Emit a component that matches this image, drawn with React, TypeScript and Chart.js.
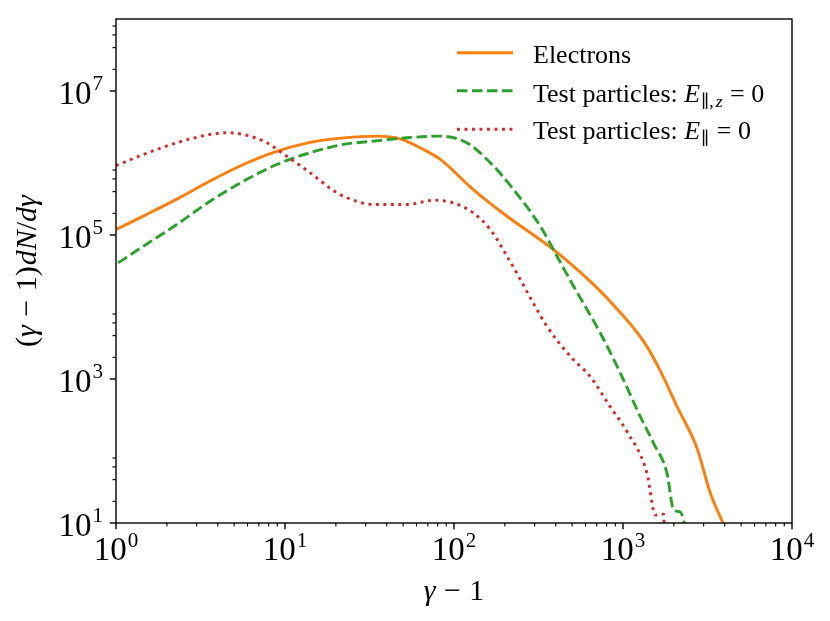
import React, { useEffect, useRef } from 'react';
import { Chart, registerables } from 'chart.js';

Chart.register(...registerables);

// ---------- data ----------
const electronsX = [1, 1.45, 2.29, 3.6, 5.67, 8.94, 14.1, 22.2, 35, 48, 66, 83, 130, 206, 388, 640, 804, 1324, 1663, 2088, 2742, 3288, 3941];
const electronsY = [1.19e5, 1.83e5, 3.15e5, 5.62e5, 9.53e5, 1.45e6, 1.93e6, 2.23e6, 2.36e6, 2.17e6, 1.54e6, 1.12e6, 4.28e5, 1.82e5, 6.27e4, 2.27e4, 1.33e4, 3.33e3, 1.3e3, 415, 109, 25.9, 9.5];

const testEzX = [1.03, 1.45, 2.29, 3.6, 5.67, 8.94, 14.1, 22.2, 33.4, 52.6, 82.9, 119, 164, 225, 324, 407, 510, 734, 964, 1266, 1518, 1822, 1994, 2183, 2371];
const testEzY = [4.1e4, 6.97e4, 1.4e5, 2.94e5, 5.58e5, 9.53e5, 1.39e6, 1.81e6, 2.01e6, 2.24e6, 2.36e6, 1.91e6, 1.01e6, 4.28e5, 1.32e5, 5.06e4, 1.94e4, 4.35e3, 1.21e3, 301, 128, 49, 15.2, 14.2, 8];

const testEX = [1, 1.45, 2.29, 3.6, 4.52, 5.67, 7.8, 10.25, 14.1, 20.3, 27.8, 33.4, 52.6, 75.6, 99.3, 130, 164, 206, 247, 296, 355, 488, 640, 841, 1056, 1387, 1554, 1740, 1756];
const testEY = [9.2e5, 1.31e6, 1.91e6, 2.49e6, 2.63e6, 2.49e6, 1.91e6, 1.24e6, 7.31e5, 3.85e5, 2.85e5, 2.65e5, 2.65e5, 3.04e5, 2.79e5, 2.03e5, 1.19e5, 5.06e4, 2.4e4, 1.11e4, 5.37e3, 2.06e3, 1.08e3, 410, 186, 49, 12.9, 13.3, 8];

const xMajorTicks = [1, 10, 100, 1000, 10000];
const xTickExponents = ['0', '1', '2', '3', '4'];
const xMinorMultipliers = [2, 3, 4, 5, 6, 7, 8, 9];
const xMinorDecades = [1, 10, 100, 1000];

const yMajorTicks = [10, 1e3, 1e5, 1e7];
const yTickExponents = ['1', '3', '5', '7'];
const yMinorMultipliers = [2, 4, 6, 8];
const yMinorDecades = [10, 1e3, 1e5, 1e7];

const seriesNames = ['Electrons', 'Test particles: ', 'Test particles: '];

const COLORS = ['#ff7f0e', '#2ca02c', '#d62728'];
const DASHES: number[][] = [[], [10.5, 4.5], [2.9, 4.6]];
const LW = 2.9;

// ---------- text helpers ----------
const SERIF = '"Liberation Serif", "Times New Roman", "DejaVu Serif", serif';
type Run = { t: string; italic?: boolean; scale?: number; dy?: number; dx?: number; fam?: string };
const fontOf = (size: number, r: Run) =>
  `${r.italic ? 'italic ' : ''}${size * (r.scale ?? 1)}px ${r.fam ?? SERIF}`;

function measureRuns(ctx: CanvasRenderingContext2D, runs: Run[], size: number) {
  let w = 0;
  for (const r of runs) {
    ctx.font = fontOf(size, r);
    w += (r.dx ?? 0) + ctx.measureText(r.t).width;
  }
  return w;
}
function drawRuns(ctx: CanvasRenderingContext2D, runs: Run[], x: number, y: number, size: number) {
  let cx = x;
  for (const r of runs) {
    ctx.font = fontOf(size, r);
    cx += r.dx ?? 0;
    ctx.fillText(r.t, cx, y + (r.dy ?? 0));
    cx += ctx.measureText(r.t).width;
  }
}

const TICK_SIZE = 33;
const TITLE_SIZE = 30;
const expRuns = (e: string): Run[] => [{ t: '10' }, { t: e, scale: 0.64, dy: -13.5, dx: 1 }];

const legendRuns: Run[][] = [
  [{ t: seriesNames[0] }],
  [
    { t: seriesNames[1] },
    { t: 'E', italic: true },
    { t: '\u2225,', scale: 0.68, dy: 5, dx: 1 },
    { t: 'z', italic: true, scale: 0.68, dy: 5, dx: 2 },
    { t: ' = 0', dx: 1 },
  ],
  [
    { t: seriesNames[2] },
    { t: 'E', italic: true },
    { t: '\u2225', scale: 0.68, dy: 5, dx: 1 },
    { t: ' = 0', dx: 1 },
  ],
];

const decorPlugin = {
  id: 'mplDecor',
  afterDraw(chart: any) {
    const { ctx, chartArea: a, scales } = chart;
    const xs = scales.x;
    const ys = scales.y;
    ctx.save();
    ctx.strokeStyle = '#000';
    ctx.fillStyle = '#000';
    ctx.setLineDash([]);
    ctx.lineCap = 'butt';

    // frame
    ctx.lineWidth = 1.4;
    ctx.strokeRect(a.left, a.top, a.right - a.left, a.bottom - a.top);

    // x ticks
    ctx.lineWidth = 1.1;
    for (const d of xMinorDecades) {
      for (const m of xMinorMultipliers) {
        const px = xs.getPixelForValue(m * d);
        ctx.beginPath();
        ctx.moveTo(px, a.bottom);
        ctx.lineTo(px, a.bottom + 3.6);
        ctx.stroke();
      }
    }
    ctx.lineWidth = 1.4;
    for (const v of xMajorTicks) {
      const px = xs.getPixelForValue(v);
      ctx.beginPath();
      ctx.moveTo(px, a.bottom);
      ctx.lineTo(px, a.bottom + 6.3);
      ctx.stroke();
    }
    // y ticks
    ctx.lineWidth = 1.1;
    for (const d of yMinorDecades) {
      for (const m of yMinorMultipliers) {
        const v = m * d;
        if (v > ys.max) continue;
        const py = ys.getPixelForValue(v);
        ctx.beginPath();
        ctx.moveTo(a.left, py);
        ctx.lineTo(a.left - 3.6, py);
        ctx.stroke();
      }
    }
    ctx.lineWidth = 1.4;
    for (const v of yMajorTicks) {
      const py = ys.getPixelForValue(v);
      ctx.beginPath();
      ctx.moveTo(a.left, py);
      ctx.lineTo(a.left - 6.3, py);
      ctx.stroke();
    }

    // tick labels
    ctx.textAlign = 'left';
    ctx.textBaseline = 'alphabetic';
    xMajorTicks.forEach((v, i) => {
      const runs = expRuns(xTickExponents[i]);
      const w = measureRuns(ctx, runs, TICK_SIZE);
      drawRuns(ctx, runs, xs.getPixelForValue(v) - w / 2, a.bottom + 37, TICK_SIZE);
    });
    yMajorTicks.forEach((v, i) => {
      const runs = expRuns(yTickExponents[i]);
      const w = measureRuns(ctx, runs, TICK_SIZE);
      drawRuns(ctx, runs, a.left - 13 - w, ys.getPixelForValue(v) + 12.5, TICK_SIZE);
    });

    // x title
    const xt: Run[] = [{ t: '\u03b3', italic: true }, { t: ' \u2212 ', dx: 1 }, { t: '1', dx: 1 }];
    const xtw = measureRuns(ctx, xt, TITLE_SIZE);
    drawRuns(ctx, xt, (a.left + a.right) / 2 - xtw / 2, a.bottom + 77, TITLE_SIZE);

    // y title
    const yt: Run[] = [
      { t: '(' },
      { t: '\u03b3', italic: true },
      { t: ' \u2212 ', dx: 1 },
      { t: '1', dx: 1 },
      { t: ')' },
      { t: 'dN', italic: true, dx: 1 },
      { t: '/' },
      { t: 'd\u03b3', italic: true },
    ];
    const ytw = measureRuns(ctx, yt, TITLE_SIZE);
    ctx.save();
    ctx.translate(36, (a.top + a.bottom) / 2);
    ctx.rotate(-Math.PI / 2);
    drawRuns(ctx, yt, -ytw / 2, 0, TITLE_SIZE);
    ctx.restore();

    // legend
    const rowLine = [52.7, 90.7, 129.3];
    const rowBase = [62.7, 101.7, 139.3];
    for (let i = 0; i < 3; i++) {
      ctx.save();
      ctx.strokeStyle = COLORS[i];
      ctx.lineWidth = LW;
      ctx.setLineDash(DASHES[i]);
      ctx.beginPath();
      ctx.moveTo(457, rowLine[i]);
      ctx.lineTo(513, rowLine[i]);
      ctx.stroke();
      ctx.restore();
      drawRuns(ctx, legendRuns[i], 533, rowBase[i], 26);
    }
    ctx.restore();
  },
};

function toPoints(xv: number[], yv: number[]) {
  return xv.map((x, i) => ({ x, y: yv[i] }));
}

export default function App() {
  const ref = useRef<HTMLCanvasElement | null>(null);
  useEffect(() => {
    if (!ref.current) return;
    const mk = (i: number, label: string, xv: number[], yv: number[], order: number) => ({
      label,
      data: toPoints(xv, yv),
      borderColor: COLORS[i],
      backgroundColor: COLORS[i],
      borderWidth: LW,
      borderDash: DASHES[i],
      borderCapStyle: 'butt' as const,
      pointRadius: 0,
      fill: false,
      cubicInterpolationMode: 'monotone' as const,
      capBezierPoints: false,
      clip: 0,
      order,
    });
    const chart = new Chart(ref.current, {
      type: 'line',
      data: {
        datasets: [
          mk(0, 'Electrons', electronsX, electronsY, 3),
          mk(1, 'Test particles: E_{\u2225,z}=0', testEzX, testEzY, 2),
          mk(2, 'Test particles: E_\u2225=0', testEX, testEY, 1),
        ],
      },
      options: {
        animation: false,
        responsive: false,
        events: [],
        layout: { padding: { left: 116, top: 19, right: 38, bottom: 98 } },
        scales: {
          x: { type: 'logarithmic', min: 1, max: 1e4, display: false },
          y: { type: 'logarithmic', min: 10, max: 1e8, display: false },
        },
        plugins: { legend: { display: false }, tooltip: { enabled: false } },
      },
      plugins: [decorPlugin],
    });
    return () => chart.destroy();
  }, []);
  return (
    <div style={{ position: 'fixed', left: 0, top: 0, width: 830, height: 621, background: '#fff' }}>
      <canvas ref={ref} width={830} height={621} style={{ width: 830, height: 621 }} />
    </div>
  );
}
